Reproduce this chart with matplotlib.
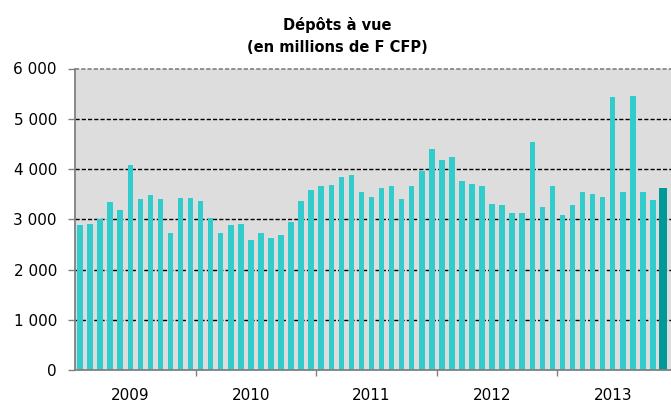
import matplotlib
matplotlib.use("Agg")
import matplotlib.pyplot as plt
import numpy as np

plt.rcParams['font.family'] = ['DejaVu Sans']
plt.rcParams['lines.scale_dashes'] = False

# Monthly values, Jan 2009 - Nov 2013 (millions de F CFP)
values = [
    2880, 2910, 3010, 3340, 3180, 4080, 3400, 3490, 3400, 2720, 3430, 3430,   # 2009
    3370, 3020, 2720, 2880, 2910, 2590, 2720, 2630, 2690, 2940, 3370, 3590,   # 2010
    3660, 3690, 3850, 3880, 3550, 3440, 3630, 3670, 3410, 3670, 3960, 4400,   # 2011
    4180, 4240, 3760, 3700, 3670, 3310, 3280, 3120, 3120, 4530, 3250, 3670,   # 2012
    3090, 3280, 3540, 3510, 3440, 5430, 3540, 5460, 3540, 3380, 3620,         # 2013
]
years = ['2009', '2010', '2011', '2012', '2013']
yticks = [0, 1000, 2000, 3000, 4000, 5000, 6000]
ytick_labels = ['0', '1 000', '2 000', '3 000', '4 000', '5 000', '6 000']
title = "Dépôts à vue\n(en millions de F CFP)"

W, H = 671, 403
fig = plt.figure(figsize=(W / 100, H / 100), dpi=100)
ax = fig.add_axes([75 / W, 1 - 370 / H, 1 - 75 / W, (370 - 68.5) / H])
ax.set_facecolor('#dddddd')

n = len(values)
x = np.arange(n)
colors = ['#33cccc'] * (n - 1) + ['#009999']
widths = [0.55] * (n - 1) + [0.72]
ax.bar(x, values, width=widths, color=colors, zorder=3, linewidth=0)

ax.set_xlim(-0.5, 58.8)
ax.set_ylim(0, 6000)

# gridlines
for v in yticks[1:-1]:
    ax.axhline(v, color='black', lw=1.0, dashes=(3, 1.5), zorder=1)
ax.axhline(6000, color='#808080', lw=1.2, dashes=(3, 1.5), zorder=1, clip_on=False)

ax.set_yticks(yticks)
ax.set_yticklabels(ytick_labels, fontsize=11)
ax.tick_params(axis='y', length=5, width=1, color='#808080', pad=8)

# year separators as major ticks, labels as minor ticks
ax.set_xticks([-0.5 + 12 * k for k in range(1, 5)])
ax.set_xticklabels([])
ax.set_xticks([5 + 12 * k for k in range(5)], minor=True)
ax.set_xticklabels(years, minor=True, fontsize=11)
ax.tick_params(axis='x', which='major', length=4, width=1, color='#808080')
ax.tick_params(axis='x', which='minor', length=0, pad=13)

for s in ['top', 'right']:
    ax.spines[s].set_visible(False)
for s in ['left', 'bottom']:
    ax.spines[s].set_color('#808080')
    ax.spines[s].set_linewidth(1.3)
ax.spines['left'].set_zorder(4)
ax.spines['bottom'].set_zorder(4)

fig.text(0.503, 1 - 36 / H, title, ha='center', va='center',
         fontsize=10.5, fontweight='bold', linespacing=1.55)

fig.savefig('out.png', dpi=100)
